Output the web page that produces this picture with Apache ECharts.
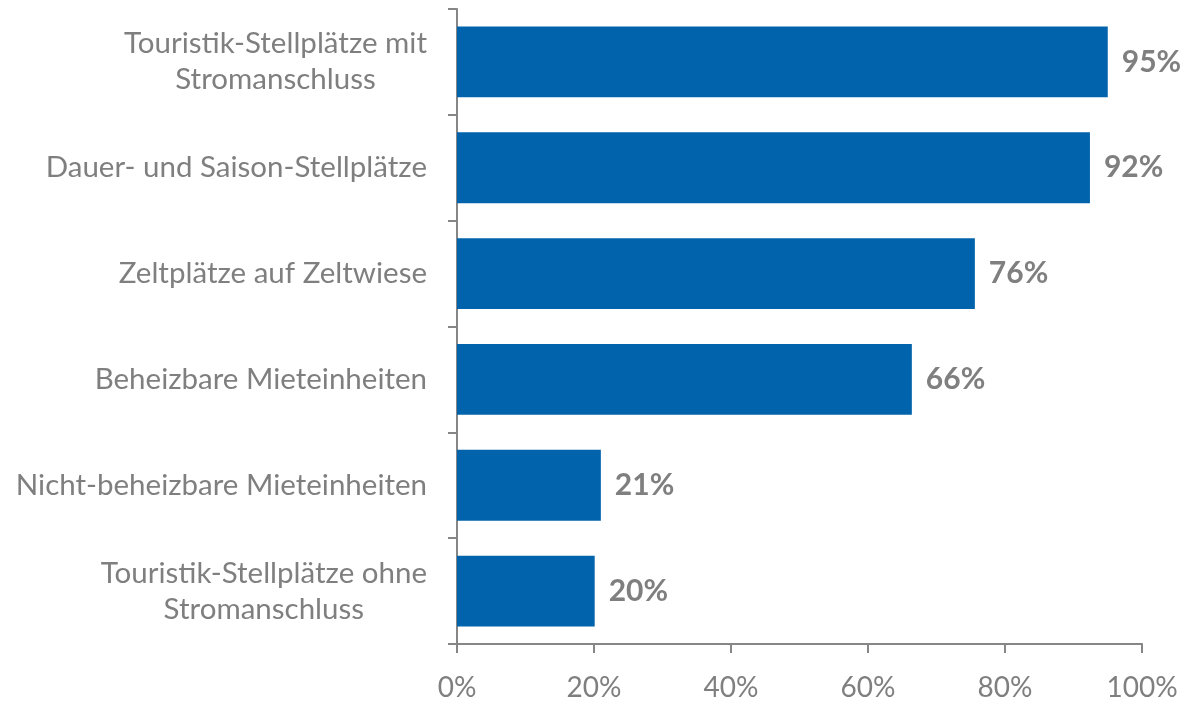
<!DOCTYPE html>
<html>
<head>
<meta charset="utf-8">
<script src="https://cdn.jsdelivr.net/npm/echarts@6/dist/echarts.min.js"></script>
<style>
  html, body { margin: 0; padding: 0; background: #fff; }
  #chart { width: 1181px; height: 702px; }
</style>
</head>
<body>
<div id="chart"></div>
<script>
// Kategorien (von oben nach unten)
var categories = [
    'Touristik-Stellplätze mit\nStromanschluss',
    'Dauer- und Saison-Stellplätze',
    'Zeltplätze auf Zeltwiese',
    'Beheizbare Mieteinheiten',
    'Nicht-beheizbare Mieteinheiten',
    'Touristik-Stellplätze ohne\nStromanschluss'
];
// Anteile in Prozent
var shares = [95.0, 92.4, 75.6, 66.4, 21.0, 20.1];
var xTicks = [0, 20, 40, 60, 80, 100];

var textGrey = '#7f7f7f';
var axisGrey = '#868686';
var fontName = 'Lato, "Open Sans", sans-serif';

var chart = echarts.init(document.getElementById('chart'), null, { renderer: 'canvas' });

var option = {
    animation: false,
    grid: { left: 457, right: 39, top: 9, bottom: 56, containLabel: false },
    xAxis: {
        type: 'value',
        min: xTicks[0],
        max: xTicks[xTicks.length - 1],
        interval: xTicks[1] - xTicks[0],
        axisLine: { show: true, lineStyle: { color: axisGrey, width: 2 } },
        axisTick: { show: true, length: 9, lineStyle: { color: axisGrey, width: 2 } },
        splitLine: { show: false },
        axisLabel: {
            margin: 30,
            color: textGrey,
            fontFamily: fontName,
            fontSize: 28,
            formatter: '{value}%'
        }
    },
    yAxis: {
        type: 'category',
        inverse: true,
        data: categories,
        axisLine: { show: true, lineStyle: { color: axisGrey, width: 2 } },
        axisTick: { show: true, length: 9, lineStyle: { color: axisGrey, width: 2 } },
        axisLabel: {
            margin: 30,
            align: 'right',
            color: textGrey,
            fontFamily: fontName,
            fontSize: 29.5,
            formatter: function (value) {
                return value.split('\n').map(function (s) { return '{c|' + s + '}'; }).join('\n');
            },
            rich: {
                c: { align: 'center', color: textGrey, fontFamily: fontName, fontSize: 29.5, lineHeight: 36 }
            }
        }
    },
    series: [{
        type: 'bar',
        data: shares,
        barCategoryGap: '33%',
        itemStyle: { color: '#0063ab' },
        label: {
            show: true,
            position: 'right',
            distance: 14,
            color: textGrey,
            fontFamily: fontName,
            fontWeight: 'bold',
            fontSize: 30,
            formatter: function (p) { return Math.round(p.value) + '%'; }
        }
    }]
};
chart.setOption(option);
</script>
</body>
</html>
